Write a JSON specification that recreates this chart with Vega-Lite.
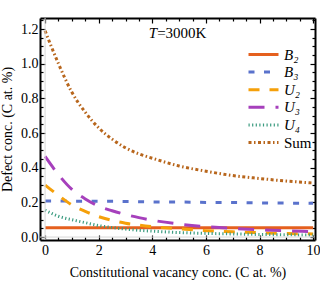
{
  "$schema": "https://vega.github.io/schema/vega-lite/v6.json",
  "width": 275,
  "height": 222,
  "autosize": {"type": "none"},
  "padding": {"left": 40, "top": 18, "right": 5, "bottom": 58},
  "background": "white",
  "config": {
    "view": {"stroke": null},
    "font": "Liberation Serif",
    "axis": {"labelFont": "Liberation Serif", "titleFont": "Liberation Serif", "labelFontSize": 14, "titleFontSize": 14, "titleFontWeight": "normal", "labelColor": "black", "titleColor": "black", "domainColor": "black", "domainWidth": 2, "tickColor": "black", "tickWidth": 1.2, "grid": false}
  },
  "data": {"values": [
    {"x": 0, "s": "B₂", "y": 0.054}, {"x": 0.5, "s": "B₂", "y": 0.054}, {"x": 1, "s": "B₂", "y": 0.054}, {"x": 1.5, "s": "B₂", "y": 0.054}, {"x": 2, "s": "B₂", "y": 0.054}, {"x": 2.5, "s": "B₂", "y": 0.054}, {"x": 3, "s": "B₂", "y": 0.054}, {"x": 3.5, "s": "B₂", "y": 0.054}, {"x": 4, "s": "B₂", "y": 0.054}, {"x": 5, "s": "B₂", "y": 0.054}, {"x": 6, "s": "B₂", "y": 0.054}, {"x": 7, "s": "B₂", "y": 0.054}, {"x": 8, "s": "B₂", "y": 0.054}, {"x": 9, "s": "B₂", "y": 0.054}, {"x": 10, "s": "B₂", "y": 0.054},
    {"x": 0, "s": "B₃", "y": 0.208}, {"x": 0.5, "s": "B₃", "y": 0.208}, {"x": 1, "s": "B₃", "y": 0.207}, {"x": 1.5, "s": "B₃", "y": 0.207}, {"x": 2, "s": "B₃", "y": 0.206}, {"x": 2.5, "s": "B₃", "y": 0.206}, {"x": 3, "s": "B₃", "y": 0.205}, {"x": 3.5, "s": "B₃", "y": 0.204}, {"x": 4, "s": "B₃", "y": 0.203}, {"x": 5, "s": "B₃", "y": 0.202}, {"x": 6, "s": "B₃", "y": 0.2}, {"x": 7, "s": "B₃", "y": 0.199}, {"x": 8, "s": "B₃", "y": 0.197}, {"x": 9, "s": "B₃", "y": 0.196}, {"x": 10, "s": "B₃", "y": 0.195},
    {"x": 0, "s": "U₂", "y": 0.3}, {"x": 0.5, "s": "U₂", "y": 0.24}, {"x": 1, "s": "U₂", "y": 0.185}, {"x": 1.5, "s": "U₂", "y": 0.148}, {"x": 2, "s": "U₂", "y": 0.118}, {"x": 2.5, "s": "U₂", "y": 0.096}, {"x": 3, "s": "U₂", "y": 0.08}, {"x": 3.5, "s": "U₂", "y": 0.069}, {"x": 4, "s": "U₂", "y": 0.06}, {"x": 5, "s": "U₂", "y": 0.047}, {"x": 6, "s": "U₂", "y": 0.037}, {"x": 7, "s": "U₂", "y": 0.03}, {"x": 8, "s": "U₂", "y": 0.025}, {"x": 9, "s": "U₂", "y": 0.021}, {"x": 10, "s": "U₂", "y": 0.018},
    {"x": 0, "s": "U₃", "y": 0.465}, {"x": 0.5, "s": "U₃", "y": 0.36}, {"x": 1, "s": "U₃", "y": 0.275}, {"x": 1.5, "s": "U₃", "y": 0.22}, {"x": 2, "s": "U₃", "y": 0.178}, {"x": 2.5, "s": "U₃", "y": 0.152}, {"x": 3, "s": "U₃", "y": 0.13}, {"x": 3.5, "s": "U₃", "y": 0.112}, {"x": 4, "s": "U₃", "y": 0.097}, {"x": 5, "s": "U₃", "y": 0.075}, {"x": 6, "s": "U₃", "y": 0.06}, {"x": 7, "s": "U₃", "y": 0.05}, {"x": 8, "s": "U₃", "y": 0.042}, {"x": 9, "s": "U₃", "y": 0.036}, {"x": 10, "s": "U₃", "y": 0.031},
    {"x": 0, "s": "U₄", "y": 0.155}, {"x": 0.5, "s": "U₄", "y": 0.12}, {"x": 1, "s": "U₄", "y": 0.1}, {"x": 1.5, "s": "U₄", "y": 0.083}, {"x": 2, "s": "U₄", "y": 0.066}, {"x": 2.5, "s": "U₄", "y": 0.055}, {"x": 3, "s": "U₄", "y": 0.046}, {"x": 3.5, "s": "U₄", "y": 0.039}, {"x": 4, "s": "U₄", "y": 0.034}, {"x": 5, "s": "U₄", "y": 0.026}, {"x": 6, "s": "U₄", "y": 0.021}, {"x": 7, "s": "U₄", "y": 0.018}, {"x": 8, "s": "U₄", "y": 0.015}, {"x": 9, "s": "U₄", "y": 0.013}, {"x": 10, "s": "U₄", "y": 0.012},
    {"x": 0, "s": "Sum", "y": 1.19}, {"x": 0.5, "s": "Sum", "y": 1.0}, {"x": 1, "s": "Sum", "y": 0.835}, {"x": 1.5, "s": "Sum", "y": 0.72}, {"x": 2, "s": "Sum", "y": 0.63}, {"x": 2.5, "s": "Sum", "y": 0.565}, {"x": 3, "s": "Sum", "y": 0.515}, {"x": 3.5, "s": "Sum", "y": 0.48}, {"x": 4, "s": "Sum", "y": 0.455}, {"x": 5, "s": "Sum", "y": 0.41}, {"x": 6, "s": "Sum", "y": 0.38}, {"x": 7, "s": "Sum", "y": 0.355}, {"x": 8, "s": "Sum", "y": 0.338}, {"x": 9, "s": "Sum", "y": 0.323}, {"x": 10, "s": "Sum", "y": 0.312}
  ]},
  "resolve": {"axis": {"x": "independent", "y": "independent"}},
  "layer": [
    {
      "mark": {"type": "line", "interpolate": "monotone", "strokeWidth": 3, "clip": true},
      "encoding": {
        "x": {"field": "x", "type": "quantitative", "scale": {"domain": [-0.19, 10.07], "nice": false, "zero": false},
          "axis": {"orient": "bottom", "title": "Constitutional vacancy conc. (C at. %)", "values": [0, 0.5, 1, 1.5, 2, 2.5, 3, 3.5, 4, 4.5, 5, 5.5, 6, 6.5, 7, 7.5, 8, 8.5, 9, 9.5, 10], "labelExpr": "datum.value % 2 == 0 ? datum.value : ''", "tickSize": {"condition": {"test": "datum.value % 2 == 0", "value": -5}, "value": -3}, "labelPadding": 8, "titlePadding": 8}},
        "y": {"field": "y", "type": "quantitative", "scale": {"domain": [-0.017, 1.264], "nice": false, "zero": false},
          "axis": {"orient": "left", "title": "Defect conc. (C at. %)", "values": [0, 0.05, 0.1, 0.15, 0.2, 0.25, 0.3, 0.35, 0.4, 0.45, 0.5, 0.55, 0.6, 0.65, 0.7, 0.75, 0.8, 0.85, 0.9, 0.95, 1.0, 1.05, 1.1, 1.15, 1.2, 1.25], "labelExpr": "abs(datum.value*10 - round(datum.value*10)) < 0.001 && round(datum.value*10) % 2 == 0 ? format(datum.value, '.1f') : ''", "tickSize": {"condition": {"test": "abs(datum.value*10 - round(datum.value*10)) < 0.001 && round(datum.value*10) % 2 == 0", "value": -5}, "value": -3}, "labelPadding": 7, "titlePadding": 6}},
        "color": {"field": "s", "type": "nominal", "sort": ["B₂", "B₃", "U₂", "U₃", "U₄", "Sum"],
          "scale": {"domain": ["B₂", "B₃", "U₂", "U₃", "U₄", "Sum"], "range": ["#E5601E", "#5A72CC", "#F5A00A", "#A640BC", "#3C9C80", "#B8661C"]},
          "legend": {"title": null, "orient": "none", "legendX": 206, "legendY": 29, "symbolType": "M-1,0L5,0", "symbolSize": 100, "symbolStrokeWidth": 3, "labelFont": "Liberation Serif", "labelFontSize": 15, "labelColor": "black", "labelOffset": 23, "rowPadding": 1.6,
            "encode": {"labels": {"update": {"fontStyle": {"signal": "datum.label === 'Sum' ? 'normal' : 'italic'"}}}}}},
        "strokeDash": {"field": "s", "type": "nominal", "sort": ["B₂", "B₃", "U₂", "U₃", "U₄", "Sum"],
          "scale": {"domain": ["B₂", "B₃", "U₂", "U₃", "U₄", "Sum"], "range": [[1, 0], [6, 9.5], [11, 10], [16, 11], [1.2, 2.4], [3, 2.5, 1.5, 2.5]]},
          "legend": {"title": null, "orient": "none", "legendX": 206, "legendY": 29, "symbolType": "M-1,0L5,0", "symbolSize": 100, "symbolStrokeWidth": 3, "labelFont": "Liberation Serif", "labelFontSize": 15, "labelColor": "black", "labelOffset": 23, "rowPadding": 1.6,
            "encode": {"labels": {"update": {"fontStyle": {"signal": "datum.label === 'Sum' ? 'normal' : 'italic'"}}}}}}
      }
    },
    {
      "mark": {"type": "line", "strokeOpacity": 0},
      "encoding": {
        "x": {"field": "x", "type": "quantitative", "axis": {"orient": "top", "labels": false, "title": null, "values": [0, 0.5, 1, 1.5, 2, 2.5, 3, 3.5, 4, 4.5, 5, 5.5, 6, 6.5, 7, 7.5, 8, 8.5, 9, 9.5, 10], "tickSize": {"condition": {"test": "datum.value % 2 == 0", "value": -5}, "value": -3}}},
        "y": {"field": "y", "type": "quantitative", "axis": {"orient": "right", "labels": false, "title": null, "values": [0, 0.05, 0.1, 0.15, 0.2, 0.25, 0.3, 0.35, 0.4, 0.45, 0.5, 0.55, 0.6, 0.65, 0.7, 0.75, 0.8, 0.85, 0.9, 0.95, 1.0, 1.05, 1.1, 1.15, 1.2, 1.25], "tickSize": {"condition": {"test": "abs(datum.value*10 - round(datum.value*10)) < 0.001 && round(datum.value*10) % 2 == 0", "value": -5}, "value": -3}}},
        "detail": {"field": "s"}
      }
    },
    {
      "data": {"values": [{}]},
      "mark": {"type": "rule", "color": "#d8d8d8", "strokeWidth": 1},
      "encoding": {"x": {"datum": 0, "axis": null}}
    },
    {
      "data": {"values": [{}]},
      "mark": {"type": "rule", "color": "#d8d8d8", "strokeWidth": 1},
      "encoding": {"y": {"datum": 0, "axis": null}}
    },
    {
      "data": {"values": [{}]},
      "mark": {"type": "text", "fontStyle": "italic", "fontSize": 15, "align": "right", "baseline": "middle", "font": "Liberation Serif"},
      "encoding": {"x": {"datum": 4.18, "axis": null}, "y": {"datum": 1.18, "axis": null}, "text": {"value": "T"}}
    },
    {
      "data": {"values": [{}]},
      "mark": {"type": "text", "fontSize": 15, "align": "left", "baseline": "middle", "font": "Liberation Serif"},
      "encoding": {"x": {"datum": 4.18, "axis": null}, "y": {"datum": 1.18, "axis": null}, "text": {"value": "=3000K"}}
    }
  ]
}
